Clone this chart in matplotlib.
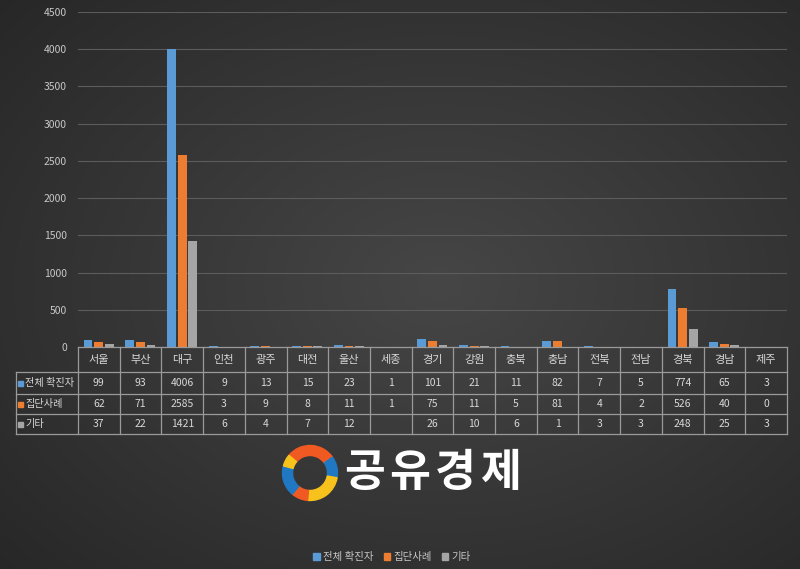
import numpy as np
import matplotlib
matplotlib.use("Agg")
from matplotlib import pyplot as plt
from matplotlib.patches import Wedge, Rectangle

plt.rcParams['font.family'] = ['Noto Sans CJK KR', 'DejaVu Sans']

regions = ['서울', '부산', '대구', '인천', '광주', '대전', '울산', '세종', '경기',
           '강원', '충북', '충남', '전북', '전남', '경북', '경남', '제주']
series_names = ['전체 확진자', '집단사례', '기타']
total = [99, 93, 4006, 9, 13, 15, 23, 1, 101, 21, 11, 82, 7, 5, 774, 65, 3]
cluster = [62, 71, 2585, 3, 9, 8, 11, 1, 75, 11, 5, 81, 4, 2, 526, 40, 0]
other = [37, 22, 1421, 6, 4, 7, 12, None, 26, 10, 6, 1, 3, 3, 248, 25, 3]
colors = ['#5b9bd5', '#ed7d31', '#a5a5a5']
logo_text = '공유경제'

W, H = 800, 569
fig = plt.figure(figsize=(W / 100, H / 100), dpi=100)

# dark radial background
bg = fig.add_axes([0, 0, 1, 1], zorder=-5)
yy, xx = np.mgrid[0:1:300j, 0:1:400j]
r = np.sqrt(((xx - 0.55) / 0.8) ** 2 + ((yy - 0.5) / 0.8) ** 2)
shade = 0.275 - 0.13 * r
bg.imshow(np.dstack([shade] * 3).clip(0, 1), aspect='auto', extent=[0, 1, 0, 1])
bg.axis('off')

left, right, top, bottom = 78, 787, 12, 347
ax = fig.add_axes([left / W, 1 - bottom / H, (right - left) / W, (bottom - top) / H])
ax.set_facecolor('none')

x = np.arange(len(regions))
bw = 0.21
offs = [-0.26, 0.0, 0.25]
for vals, off, c in zip([total, cluster, other], offs, colors):
    v = [0 if a is None else a for a in vals]
    ax.bar(x + off, v, width=bw, color=c, linewidth=0, zorder=3)

ax.set_xlim(-0.5, len(regions) - 0.5)
ax.set_ylim(0, 4500)
ax.set_yticks(np.arange(0, 4501, 500))
ax.tick_params(axis='y', length=0, labelsize=7.5, labelcolor='#c8c8c8', pad=8)
ax.set_xticks([])
ax.grid(axis='y', color='#5c5c5c', linewidth=0.8, zorder=0)
for s in ax.spines.values():
    s.set_visible(False)

# data table under the axis
ph = bottom - top
def ay(py):
    return -(py - bottom) / ph

lab_left = -0.5 - (left - 16) / ((right - left) / len(regions))
line_c = '#9a9a9a'
row_edges = [347, 372, 394, 414, 434]
tkw = dict(clip_on=False, color=line_c, linewidth=0.9, zorder=4)
trans = ax.get_xaxis_transform()
ax.plot([-0.5, len(regions) - 0.5], [ay(row_edges[0])] * 2, transform=trans, **tkw)
for e in row_edges[1:]:
    ax.plot([lab_left, len(regions) - 0.5], [ay(e)] * 2, transform=trans, **tkw)
for b in np.arange(-0.5, len(regions), 1.0):
    ax.plot([b, b], [ay(347), ay(434)], transform=trans, **tkw)
ax.plot([lab_left, lab_left], [ay(372), ay(434)], transform=trans, **tkw)

tcol = '#d8d8d8'
hy = ay((row_edges[0] + row_edges[1]) / 2)
for i, name in enumerate(regions):
    ax.text(i, hy, name, transform=trans, ha='center', va='center',
            fontsize=8, color=tcol, clip_on=False)
for k, vals in enumerate([total, cluster, other]):
    cy = ay((row_edges[k + 1] + row_edges[k + 2]) / 2)
    for i, v in enumerate(vals):
        if v is None:
            continue
        ax.text(i, cy, str(v), transform=trans, ha='center', va='center',
                fontsize=7.5, color=tcol, clip_on=False)
    py = (row_edges[k + 1] + row_edges[k + 2]) / 2
    fig.add_artist(Rectangle((18 / W, 1 - (py + 2.5) / H), 5 / W, 5 / H,
                             transform=fig.transFigure, color=colors[k]))
    fig.text(25 / W, 1 - py / H, series_names[k], ha='left', va='center',
             fontsize=7.3, color=tcol)

# logo ring
cx, cy0, ro, rw = 3.10, (H - 473) / 100, 0.275, 0.10
segments = [(35, 140, '#f05a22'), (-10, 35, '#1f78c1'), (-95, -10, '#f7c21b'),
            (-130, -95, '#f05a22'), (165, 230, '#1f78c1'), (140, 165, '#f7c21b')]
for a1, a2, c in segments:
    fig.add_artist(Wedge((cx, cy0), ro, a1, a2, width=rw, color=c,
                         transform=fig.dpi_scale_trans))
for j, ch in enumerate(logo_text):
    fig.text((365 + 45 * j) / W, 1 - 473 / H, ch, ha='center', va='center',
             fontsize=32, fontweight='bold', color='white')

handles = [Rectangle((0, 0), 1, 1, color=c) for c in colors]
fig.legend(handles, series_names, loc='center', bbox_to_anchor=(0.49, 1 - 557 / H),
           ncol=3, frameon=False, fontsize=7.5, labelcolor='#c8c8c8',
           handlelength=0.6, handleheight=0.6, handletextpad=0.3, columnspacing=1.0)

fig.savefig('out.png', dpi=100)
